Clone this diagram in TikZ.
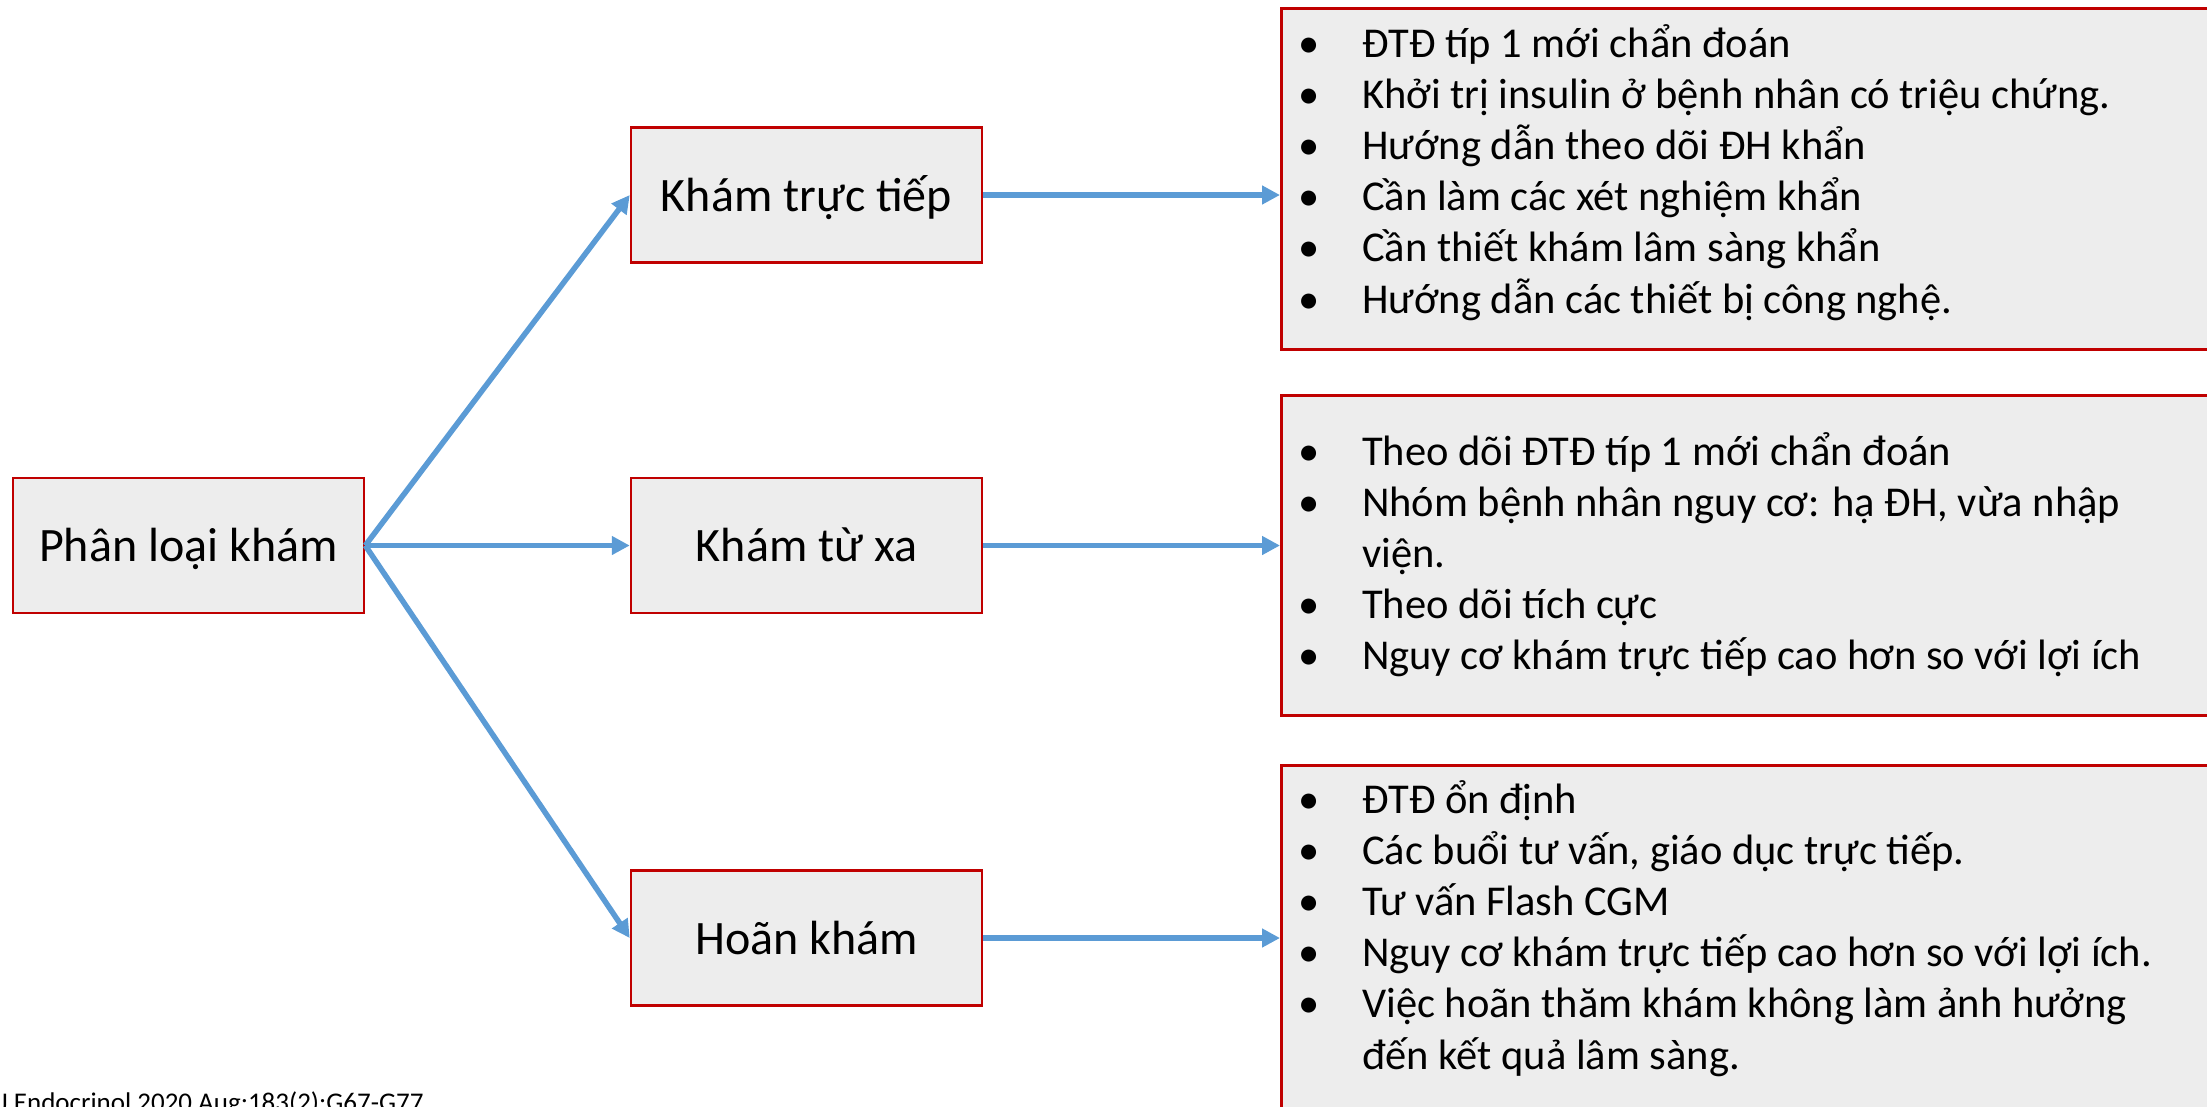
\documentclass[tikz,border=0pt]{standalone}
\usepackage{fontspec}
\setmainfont{Carlito}
\usetikzlibrary{arrows.meta}
\definecolor{boxfill}{HTML}{EDEDED}
\definecolor{boxline}{HTML}{C00000}
\definecolor{arrowblue}{HTML}{5B9BD5}
\begin{document}
\begin{tikzpicture}[x=1pt,y=-1pt,
  cat/.style={draw=boxline, fill=boxfill, line width=2.5pt, minimum width=351pt,
    minimum height=135pt, inner sep=0pt, text height=41pt, text depth=9pt,
    font=\fontsize{48}{57}\selectfont},
  info/.style={draw=boxline, fill=boxfill, line width=2.5pt, inner sep=0pt,
    anchor=north west, minimum width=980pt},
  conn/.style={draw=arrowblue, line width=5.5pt, -{Triangle[length=18pt,width=18pt]}},
  list/.style={anchor=base west, inner sep=0pt, font=\fontsize{42.5}{51.2}\selectfont},
  refnote/.style={anchor=base west, inner sep=0pt, font=\fontsize{27}{31}\selectfont}]
\useasboundingbox (0,0) rectangle (2207,1106);
\clip (0,0) rectangle (2207,1106);

% category boxes
\node[cat] (p)  at (188.5,545.5) {Phân loại khám};
\node[cat] (k1) at (806.5,195)   {Khám trực tiếp};
\node[cat] (k2) at (806.5,545.5) {Khám từ xa};
\node[cat] (k3) at (806.5,938)   {Hoãn khám};

% information boxes
\node[info, minimum height=341pt] (r1) at (1280,7)   {};
\node[info, minimum height=320pt] (r2) at (1280,394) {};
\node[info, minimum height=380pt] (r3) at (1280,764) {};

\node[list] (t1) at (1298,57) {\begin{tabular}[t]{@{}p{64pt}@{}l@{}}
• & ĐTĐ típ 1 mới chẩn đoán\\
• & Khởi trị insulin ở bệnh nhân có triệu chứng.\\
• & Hướng dẫn theo dõi ĐH khẩn\\
• & Cần làm các xét nghiệm khẩn\\
• & Cần thiết khám lâm sàng khẩn\\
• & Hướng dẫn các thiết bị công nghệ.
\end{tabular}};

\node[list] (t2) at (1298,465) {\begin{tabular}[t]{@{}p{64pt}@{}l@{}}
• & Theo dõi ĐTĐ típ 1 mới chẩn đoán\\
• & Nhóm bệnh nhân nguy cơ: hạ ĐH, vừa nhập\\
  & viện.\\
• & Theo dõi tích cực\\
• & Nguy cơ khám trực tiếp cao hơn so với lợi ích
\end{tabular}};

\node[list] (t3) at (1298,813) {\begin{tabular}[t]{@{}p{64pt}@{}l@{}}
• & ĐTĐ ổn định\\
• & Các buổi tư vấn, giáo dục trực tiếp.\\
• & Tư vấn Flash CGM\\
• & Nguy cơ khám trực tiếp cao hơn so với lợi ích.\\
• & Việc hoãn thăm khám không làm ảnh hưởng\\
  & đến kết quả lâm sàng.
\end{tabular}};

% connectors
\draw[conn] (p.east) -- (k1.west);
\draw[conn] (p.east) -- (k2.west);
\draw[conn] (p.east) -- (k3.west);
\draw[conn] (k1.east) -- (k1.east -| r1.west);
\draw[conn] (k2.east) -- (k2.east -| r2.west);
\draw[conn] (k3.east) -- (k3.east -| r3.west);

% reference note
\node[refnote] (ref) at (-1,1111) {J Endocrinol 2020 Aug;183(2):G67-G77};
\end{tikzpicture}
\end{document}
